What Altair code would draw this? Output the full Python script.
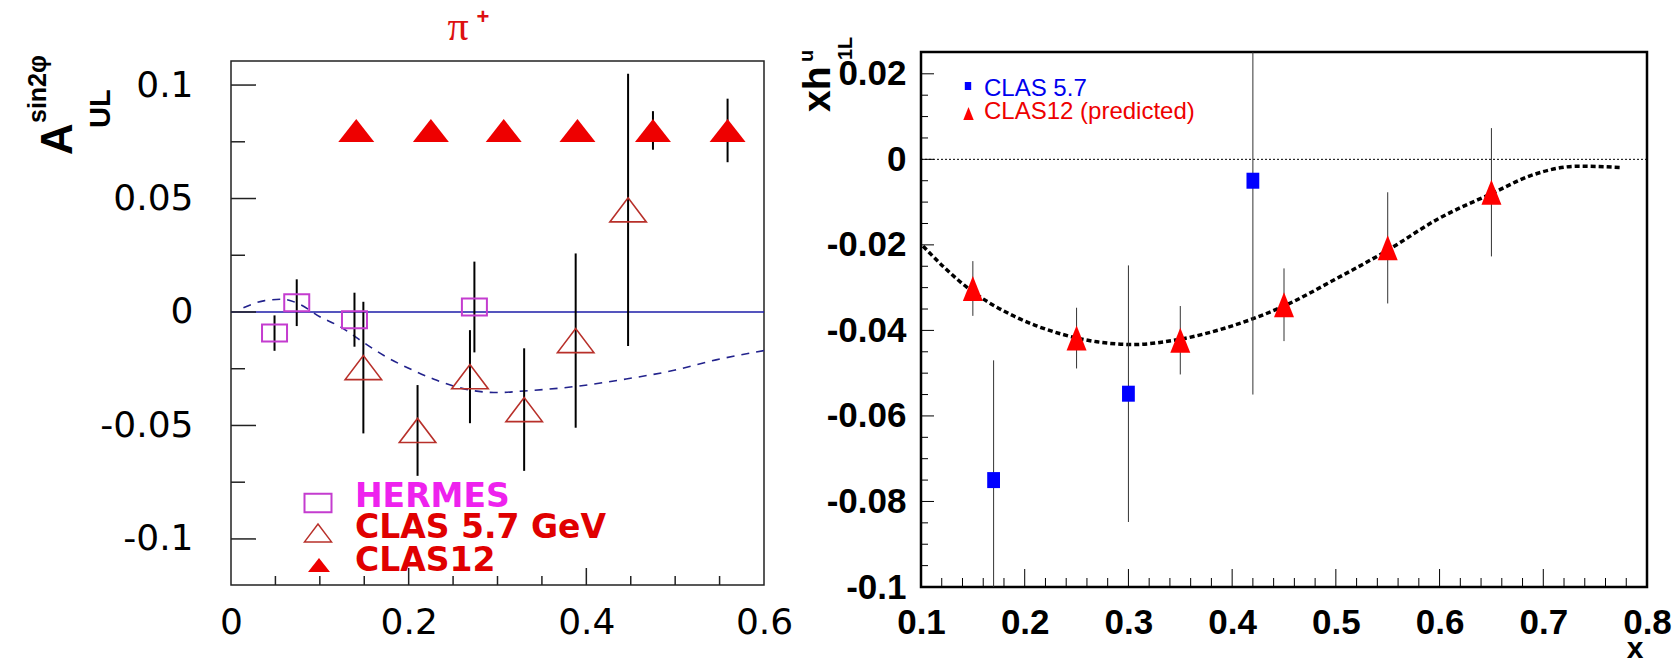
import altair as alt
import pandas as pd

# ---------------- left panel: A_UL^{sin2phi}, pi+ ----------------
hermes_x = [0.049, 0.074, 0.139, 0.274]
hermes_y = [-0.0093, 0.0041, -0.0034, 0.0022]
hermes_err = [0.0078, 0.0103, 0.0119, 0.0200]

clas57_x = [0.149, 0.210, 0.269, 0.330, 0.388, 0.447]
clas57_y = [-0.0245, -0.0522, -0.0285, -0.0430, -0.0126, 0.0450]
clas57_err = [0.0290, 0.0200, 0.0205, 0.0270, 0.0384, 0.0600]

clas12_x = [0.141, 0.225, 0.307, 0.390, 0.475, 0.559]
clas12_y = [0.080, 0.080, 0.080, 0.080, 0.080, 0.080]
clas12_err = [0.003, 0.003, 0.003, 0.003, 0.0085, 0.014]

model_l_x = [0.014, 0.038, 0.058, 0.077, 0.100, 0.123, 0.148, 0.173, 0.200,
             0.231, 0.269, 0.300, 0.330, 0.386, 0.442, 0.500, 0.546, 0.600]
model_l_y = [0.0019, 0.0050, 0.0056, 0.0035, -0.0021, -0.0065, -0.0131, -0.0194, -0.0248,
             -0.0300, -0.0344, -0.0355, -0.0348, -0.0329, -0.0297, -0.0256, -0.0211, -0.0170]

L_XDOM = [0.0, 0.6]
L_YDOM = [-0.1203, 0.1106]
L_XLABELS = [0.0, 0.2, 0.4, 0.6]
L_YLABELS = [-0.1, -0.05, 0.0, 0.05, 0.1]
L_XMAJOR = [0.2, 0.4]
L_XMINOR = [0.05, 0.1, 0.15, 0.25, 0.3, 0.35, 0.45, 0.5, 0.55]
L_YMAJOR = [-0.1, -0.05, 0.0, 0.05, 0.1]
L_YMINOR = [-0.075, -0.025, 0.025, 0.075]
L_LEGEND = ["HERMES", "CLAS 5.7 GeV", "CLAS12"]

# ---------------- right panel: x h_1L^u ----------------
r57_x = [0.170, 0.300, 0.420]
r57_y = [-0.0750, -0.0548, -0.0050]
r57_err = [0.0280, 0.0300, 0.0500]

r12_x = [0.150, 0.250, 0.350, 0.450, 0.550, 0.650]
r12_y = [-0.0302, -0.0418, -0.0423, -0.0340, -0.0207, -0.0077]
r12_err = [0.0064, 0.0071, 0.0080, 0.0085, 0.0130, 0.0150]

model_r_x = [0.102, 0.1225, 0.149, 0.190, 0.236, 0.281, 0.304, 0.349, 0.394,
             0.450, 0.499, 0.551, 0.598, 0.652, 0.689, 0.734, 0.775]
model_r_y = [-0.0203, -0.0253, -0.0308, -0.0367, -0.0409, -0.0430, -0.0433, -0.0421, -0.0394,
             -0.0343, -0.0281, -0.0211, -0.0140, -0.0078, -0.0037, -0.0016, -0.0019]

R_XDOM = [0.1, 0.8]
R_YDOM = [-0.1, 0.0251]
R_XLABELS = [0.1, 0.2, 0.3, 0.4, 0.5, 0.6, 0.7, 0.8]
R_YLABELS = [-0.1, -0.08, -0.06, -0.04, -0.02, 0.0, 0.02]
R_XMAJOR = [0.2, 0.3, 0.4, 0.5, 0.6, 0.7]
R_XMINOR = [round(0.1 + 0.02 * i, 2) for i in range(1, 35) if i % 5]
R_YMAJOR = [-0.08, -0.06, -0.04, -0.02, 0.0, 0.02]
R_YMINOR = [round(-0.1 + 0.005 * i, 3) for i in range(1, 25) if i % 4]
R_LEGEND = ["CLAS 5.7", "CLAS12 (predicted)"]

# ---------------- styling ----------------
W, H = 1679, 660
NARROW = "Liberation Sans Narrow, Liberation Sans, Arial"
MINUS = "replace(format(datum.value, '~g'), '\u2212', '-')"

TRI_L = "M-1,0.64L1,0.64L0,-0.64Z"
TRI_L_OPEN = "M-1,0.66L1,0.66L0,-0.66Z"
SQ_L = "M-1,-0.68L1,-0.68L1,0.68L-1,0.68Z"
SQ_R = "M-0.8,-1L0.8,-1L0.8,1L-0.8,1Z"
TRI_R = "M-0.8,1L0.8,1L0,-1Z"

lxs = alt.Scale(domain=L_XDOM, range=[231, 764], zero=False, nice=False)
lys = alt.Scale(domain=L_YDOM, range=[585, 61], zero=False, nice=False)
rxs = alt.Scale(domain=R_XDOM, range=[921, 1647], zero=False, nice=False)
rys = alt.Scale(domain=R_YDOM, range=[587, 52], zero=False, nice=False, clamp=True)

lxa = alt.Axis(orient="bottom", offset=-(H - 585), values=L_XLABELS, labelExpr=MINUS,
               labelFont="DejaVu Sans", labelFontSize=36, labelColor="#000",
               labelPadding=20, ticks=False, tickSize=0, domain=False, grid=False,
               title=None, labelFlush=False, labelOverlap=False, labelBound=False)
lya = alt.Axis(orient="left", offset=-231, values=L_YLABELS, labelExpr=MINUS,
               labelFont="DejaVu Sans", labelFontSize=36, labelColor="#000",
               labelPadding=38, ticks=False, tickSize=0, domain=False, grid=False,
               title=None, labelFlush=False, labelOverlap=False, labelBound=False)
rxa = alt.Axis(orient="bottom", offset=-(H - 587), values=R_XLABELS, labelExpr=MINUS,
               labelFont=NARROW, labelFontSize=35, labelFontWeight="bold", labelColor="#000",
               labelPadding=18, ticks=False, tickSize=0, domain=False, grid=False,
               title=None, labelFlush=False, labelOverlap=False, labelBound=False)
rya = alt.Axis(orient="left", offset=-921, values=R_YLABELS, labelExpr=MINUS,
               labelFont=NARROW, labelFontSize=35, labelFontWeight="bold", labelColor="#000",
               labelPadding=15, ticks=False, tickSize=0, domain=False, grid=False,
               title=None, labelFlush=False, labelOverlap=False, labelBound=False)


def LX(f):
    return alt.X(f"{f}:Q", scale=lxs, axis=lxa)


def LY(f):
    return alt.Y(f"{f}:Q", scale=lys, axis=lya)


def RX(f):
    return alt.X(f"{f}:Q", scale=rxs, axis=rxa)


def RY(f):
    return alt.Y(f"{f}:Q", scale=rys, axis=rya)


def frame(xd, yd):
    return pd.DataFrame({"x0": [xd[0]], "x1": [xd[1]], "y0": [yd[0]], "y1": [yd[1]]})


def series(xs, ys, es=None):
    d = pd.DataFrame({"x": xs, "y": ys})
    if es is not None:
        d["e"] = es
    return d


def ticks(vals):
    return pd.DataFrame({"t": vals})


# ---------------- left panel layers ----------------
l_frame = alt.Chart(frame(L_XDOM, L_YDOM)).mark_rect(
    filled=False, color="#222", strokeWidth=1.5
).encode(x=LX("x0"), x2="x1", y=LY("y0"), y2="y1")

l_zero = alt.Chart(frame(L_XDOM, L_YDOM)).transform_calculate(z="0").mark_rule(
    color="#1c1ca8", strokeWidth=1.5
).encode(x=LX("x0"), x2="x1", y=LY("z"))


def l_xticks(vals, length):
    return alt.Chart(ticks(vals)).transform_calculate(b=str(L_YDOM[0])).mark_rule(
        color="#222", strokeWidth=1.5, y2Offset=-length
    ).encode(x=LX("t"), y=LY("b"), y2="b")


def l_yticks(vals, length):
    return alt.Chart(ticks(vals)).transform_calculate(b=str(L_XDOM[0])).mark_rule(
        color="#222", strokeWidth=1.5, x2Offset=length
    ).encode(y=LY("t"), x=LX("b"), x2="b")


l_curve = alt.Chart(series(model_l_x, model_l_y)).mark_line(
    color="#22228c", strokeWidth=1.6, strokeDash=[8, 7], interpolate="monotone"
).encode(x=LX("x"), y=LY("y"))


def l_err(d):
    return alt.Chart(d).transform_calculate(
        lo="datum.y - datum.e", hi="datum.y + datum.e"
    ).mark_rule(color="#000", strokeWidth=2).encode(x=LX("x"), y=LY("lo"), y2="hi")


d_h = series(hermes_x, hermes_y, hermes_err)
d_57 = series(clas57_x, clas57_y, clas57_err)
d_12 = series(clas12_x, clas12_y, clas12_err)

l_h = alt.Chart(d_h).mark_point(
    shape=SQ_L, size=625, filled=False, stroke="#c43ccf", strokeWidth=2, opacity=1
).encode(x=LX("x"), y=LY("y"))
l_57 = alt.Chart(d_57).mark_point(
    shape=TRI_L_OPEN, size=1330, filled=False, stroke="#b8302a", strokeWidth=1.6, opacity=1
).encode(x=LX("x"), y=LY("y"))
l_12 = alt.Chart(d_12).mark_point(
    shape=TRI_L, size=1296, filled=True, color="#ee0000", opacity=1
).encode(x=LX("x"), y=LY("y"))

left = alt.layer(
    l_frame, l_zero,
    l_xticks(L_XMAJOR, 17), l_xticks(L_XMINOR, 9),
    l_yticks(L_YMAJOR, 25), l_yticks(L_YMINOR, 14),
    l_curve, l_err(d_h), l_err(d_57), l_err(d_12), l_h, l_57, l_12,
)

# ---------------- right panel layers ----------------
r_frame = alt.Chart(frame(R_XDOM, R_YDOM)).mark_rect(
    filled=False, color="#000", strokeWidth=2.5
).encode(x=RX("x0"), x2="x1", y=RY("y0"), y2="y1")

r_zero = alt.Chart(frame(R_XDOM, R_YDOM)).transform_calculate(z="0").mark_rule(
    color="#000", strokeWidth=1, strokeDash=[2, 2]
).encode(x=RX("x0"), x2="x1", y=RY("z"))


def r_xticks(vals, length):
    return alt.Chart(ticks(vals)).transform_calculate(b=str(R_YDOM[0])).mark_rule(
        color="#000", strokeWidth=1, y2Offset=-length
    ).encode(x=RX("t"), y=RY("b"), y2="b")


def r_yticks(vals, length):
    return alt.Chart(ticks(vals)).transform_calculate(b=str(R_XDOM[0])).mark_rule(
        color="#000", strokeWidth=1, x2Offset=length
    ).encode(y=RY("t"), x=RX("b"), x2="b")


r_curve = alt.Chart(series(model_r_x, model_r_y)).mark_line(
    color="#000", strokeWidth=3.5, strokeDash=[5, 3], interpolate="monotone"
).encode(x=RX("x"), y=RY("y"))


def r_err(d):
    return alt.Chart(d).transform_calculate(
        lo="datum.y - datum.e", hi="datum.y + datum.e"
    ).mark_rule(color="#333", strokeWidth=1).encode(x=RX("x"), y=RY("lo"), y2="hi")


d_r57 = series(r57_x, r57_y, r57_err)
d_r12 = series(r12_x, r12_y, r12_err)

r_57 = alt.Chart(d_r57).mark_point(
    shape=SQ_R, size=256, filled=True, color="#0000ff", opacity=1
).encode(x=RX("x"), y=RY("y"))
r_12 = alt.Chart(d_r12).mark_point(
    shape=TRI_R, size=625, filled=True, color="#ff0000", opacity=1
).encode(x=RX("x"), y=RY("y"))

right = alt.layer(
    r_frame, r_zero,
    r_xticks(R_XMAJOR, 18), r_xticks(R_XMINOR, 9),
    r_yticks(R_YMAJOR, 13), r_yticks(R_YMINOR, 7),
    r_curve, r_err(d_r57), r_err(d_r12), r_12, r_57,
)

# ---------------- titles, axis titles and legends ----------------
one = pd.DataFrame({"k": [0]})


def label(text, x, y, size, color="#000", font="Liberation Sans", weight="bold",
          align="left", baseline="alphabetic", angle=0):
    return alt.Chart(one).mark_text(
        text=text, font=font, fontSize=size, fontWeight=weight, color=color,
        align=align, baseline=baseline, angle=angle
    ).encode(x=alt.value(x), y=alt.value(y))


def symbol(shape, size, x, y, color, filled, sw=1.5):
    if filled:
        return alt.Chart(one).mark_point(
            shape=shape, size=size, filled=True, color=color, opacity=1
        ).encode(x=alt.value(x), y=alt.value(y))
    return alt.Chart(one).mark_point(
        shape=shape, size=size, filled=False, stroke=color, strokeWidth=sw, opacity=1
    ).encode(x=alt.value(x), y=alt.value(y))


texts = [
    # pi+ heading
    label("\u03c0", 458, 40, 42, color="#dd1111", font="Liberation Serif", weight="normal",
          align="center"),
    label("+", 483, 24, 22, color="#dd1111", align="center"),
    # A_UL^{sin2phi}
    label("A", 72, 155, 44, angle=270),
    label("UL", 110, 128, 29, angle=270),
    label("sin2\u03c6", 46, 123, 25, angle=270),
    # x h_1L^u
    label("xh", 830, 112, 39, angle=270),
    label("u", 813, 62, 20, angle=270),
    label("1L", 852, 60, 20, angle=270),
    label("x", 1635, 658, 30, align="center"),
    # left legend
    symbol(SQ_L, 729, 318, 503, "#c43ccf", False, 2),
    symbol(TRI_L_OPEN, 729, 318, 533, "#b8302a", False),
    symbol(TRI_L, 484, 319, 565, "#ee0000", True),
    label(L_LEGEND[0], 355, 507, 33, color="#ee22ee", font="DejaVu Sans"),
    label(L_LEGEND[1], 355, 538, 33, color="#e00000", font="DejaVu Sans"),
    label(L_LEGEND[2], 355, 571, 33, color="#e00000", font="DejaVu Sans"),
    # right legend
    symbol(SQ_R, 64, 968, 86, "#0000ff", True),
    symbol(TRI_R, 169, 968.5, 113.5, "#ff0000", True),
    label(R_LEGEND[0], 984, 96, 24, color="#0000ee", font=NARROW, weight="normal"),
    label(R_LEGEND[1], 984, 119, 24, color="#ee0000", font=NARROW, weight="normal"),
]

chart = alt.layer(left, right, *texts).resolve_scale(
    x="independent", y="independent"
).properties(
    width=W, height=H, autosize="none", padding=0, background="white"
).configure_view(stroke=None)

chart.save("out.html", embed_options={"renderer": "svg", "actions": False})
